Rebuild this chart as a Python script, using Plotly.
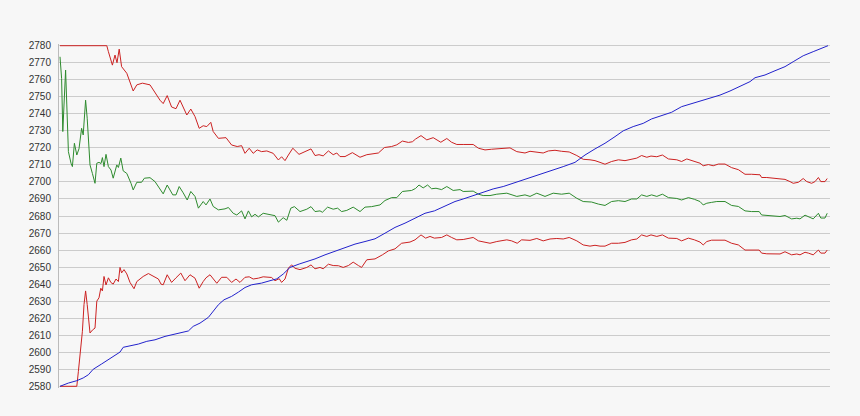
import plotly.graph_objects as go

# ---- data (sample index, value) ----
blue_x = [0, 2.1, 4.2, 5.8, 7.1, 8.3, 10.4, 12.1, 13.75, 15, 15.8, 17.1, 19.6, 21.7, 23.75, 26.25,
          30, 32.1, 33.3, 35, 37.1, 38.3, 39.6, 41, 42.9, 44.6, 46.25, 47.9, 50.4, 52.5, 54.2, 55.8,
          57.5, 59.8, 61.25, 63.75, 66.25, 68.75, 71.25, 73.75, 76.25, 78.75, 81.25, 83.75, 86.25,
          88.75, 91.25, 93.6, 96.7, 98.75, 100.8, 103.3, 105.8, 108.3, 110.8, 113.3, 115.8, 118.3,
          120.8, 123.3, 125.8, 128.75, 131.25, 133.75, 136.25, 138.75, 140.8, 143.3, 145.8, 147.9,
          150.4, 152.9, 155.4, 158.3, 161.1, 162.5, 165, 167.5, 170, 172.5, 173.75, 176.25, 178.75,
          181.25, 183.3, 185.8, 188.3, 190.4, 192]
blue_y = [2580, 2581.9, 2583.3, 2584.9, 2586.8, 2590, 2593.1, 2595.6, 2598.5, 2600.1, 2602.9, 2603.5,
          2604.8, 2606.4, 2607.3, 2609.3, 2611.3, 2612.5, 2615.2, 2617.1, 2620.5, 2624, 2627.9, 2630.8,
          2632.8, 2635.3, 2638, 2639.6, 2640.6, 2642, 2643.1, 2645.9, 2649.8, 2651.8, 2652.9, 2654.8,
          2657.2, 2659.2, 2661.1, 2663.5, 2665, 2666.6, 2669.9, 2673.3, 2675.8, 2678.7, 2681.6, 2683,
          2686.5, 2688.5, 2690, 2692, 2694, 2695.9, 2697.3, 2699.2, 2701.2, 2703.2, 2705.1, 2707, 2709,
          2711.5, 2715.8, 2719.4, 2722.7, 2726.6, 2730, 2732.5, 2734.4, 2737, 2738.9, 2740.9, 2744.2,
          2746.2, 2748, 2749, 2751, 2753.4, 2756, 2758.9, 2761.2, 2762.8, 2765.3, 2767.7, 2770.6,
          2774.1, 2776.5, 2778.4, 2780]

upper_x = [0, 11.7, 12.1, 13.1, 13.75, 14.25, 14.8, 15.4, 16.7, 18.3, 19.2, 20.6, 22.5, 24.2, 25,
           25.8, 26.8, 27.9, 29, 30, 31.7, 32.7, 33.75, 34.8, 35.8, 36.7, 37.7, 38.3, 39.6, 41.5,
           42.9, 44.3, 45.4, 46.25, 47.3, 48.3, 49.3, 50.4, 51.7, 53.3, 54.6, 55.4, 56.25, 57.1,
           58.2, 59.75, 61.25, 62.75, 63.75, 64.75, 65.8, 67.1, 68.3, 69.2, 70, 71.25, 73.1, 75,
           76.7, 78.3, 79.6, 81.1, 82.9, 84.2, 85.6, 87.1, 88.1, 88.9, 90.25, 91.7, 93.3, 95.2,
           96.7, 97.9, 99.2, 100.8, 103.3, 104.6, 106.25, 107.9, 110, 112.5, 114.2, 116.25, 117.5,
           118.75, 120.8, 122.1, 123.75, 125.4, 127.3, 129.2, 130.8, 132.5, 133.75, 135, 136.25,
           137.9, 139.6, 141.25, 142.9, 144.2, 145.4, 146.7, 147.75, 149.2, 150.6, 152.1, 154.2,
           155.4, 156.7, 158.3, 160, 160.8, 162.1, 163.3, 164.6, 166.25, 167.9, 169.6, 171.25,
           172.9, 175, 175.4, 176.7, 180, 181.25, 182.5, 183.3, 184.6, 185.8, 186.7, 187.9, 188.75,
           189.6, 190.2, 191.25, 191.8]
upper_y = [2780, 2780, 2776.5, 2768.6, 2774.5, 2770, 2778, 2767.7, 2763.8, 2753.4, 2757, 2758, 2757,
           2750.7, 2748, 2746, 2750.7, 2744, 2743, 2748, 2739.3, 2742.8, 2738.4, 2731.5, 2733,
           2732.5, 2735, 2729.6, 2725.6, 2726, 2721.7, 2720.8, 2721.3, 2716.8, 2719.8, 2716.8,
           2718.8, 2717.8, 2718.2, 2716.8, 2712.9, 2714.8, 2712.5, 2715.8, 2719.8, 2716.2, 2717.8,
           2719.4, 2715.5, 2716, 2715.3, 2718.2, 2716, 2717, 2714.9, 2714.9, 2717.2, 2714.5, 2716,
           2716.5, 2717, 2720.2, 2720.8, 2721.8, 2724, 2723.2, 2723.6, 2725.2, 2727.2, 2724.7, 2726,
           2723.3, 2725.5, 2723.3, 2722, 2722, 2722, 2719.8, 2718.8, 2719.2, 2719.4, 2720, 2717.8,
           2717, 2718, 2717.5, 2717, 2718.2, 2718.6, 2718, 2717.6, 2715.5, 2713.3, 2713, 2712.5,
           2711.5, 2710.4, 2712, 2713, 2712.5, 2713.5, 2714, 2715.5, 2714.5, 2715.2, 2714.8, 2715.8,
           2713.5, 2713, 2712, 2713.5, 2712.3, 2711, 2709.5, 2710.2, 2709.5, 2710.5, 2710.5, 2708.4,
           2707.2, 2704.5, 2704.5, 2704.2, 2702.6, 2702.6, 2701.8, 2701.5, 2700.2, 2699.2, 2699.8,
           2702, 2700.2, 2699.2, 2700.2, 2702.6, 2700.2, 2700.2, 2702]

mid_x = [0, 0.4, 0.7, 1.1, 1.4, 1.7, 2.1, 2.75, 3.1, 3.6, 4.2, 4.75, 5.4, 5.8, 6.4, 6.8, 7.5, 8.1,
         8.75, 9.2, 9.75, 10.25, 10.6, 11, 11.5, 12.1, 12.75, 13.3, 14.2, 14.6, 15.2, 15.8, 16.7,
         17.75, 18.3, 19.2, 20.4, 21.1, 22.5, 23.75, 25, 25.8, 26.8, 28.2, 29, 29.8, 30.8, 31.8,
         32.7, 33.75, 34.6, 35.8, 36.5, 37.5, 38.3, 39.6, 41.25, 42.1, 43.3, 44.2, 45.4, 46.25,
         47.1, 47.9, 48.75, 49.6, 50.8, 52.5, 53.75, 54.6, 55.8, 56.7, 57.7, 58.6, 59.6, 60, 61.7,
         62.75, 63.75, 65, 65.6, 66.9, 68.3, 69.4, 70.4, 71.7, 73.3, 75, 76.25, 77.9, 80, 81.25,
         82.9, 84.2, 85.6, 87.9, 88.9, 89.75, 90.8, 91.9, 92.9, 94, 95.4, 96.7, 98.3, 100, 100.8,
         103.3, 104.6, 105.8, 107.5, 109.2, 111.7, 114.2, 116.25, 117.5, 119.2, 121.25, 123.3,
         125.4, 127.3, 129.2, 130.8, 132.9, 134.6, 136.25, 137.9, 139.6, 141.25, 142.9, 144.2,
         145.4, 146.7, 147.9, 149.2, 150.6, 152.1, 154.2, 155.4, 157.1, 158.6, 160, 160.8, 161.7,
         162.9, 164.2, 166.25, 167.9, 169.6, 171.25, 172.9, 174.8, 175.4, 176.7, 180, 181.25,
         182.9, 184.2, 185, 186.25, 187.1, 188.3, 189.6, 190.2, 191.25, 191.8]
mid_y = [2773.5, 2760.8, 2729.6, 2749, 2765.7, 2745.2, 2717.8, 2711, 2709, 2722.7, 2715.8, 2719.5,
         2731.5, 2727.6, 2748, 2737.4, 2710, 2705, 2699.2, 2711, 2711.5, 2710.8, 2714.3, 2709,
         2716.2, 2709, 2707, 2702.2, 2710, 2708.5, 2714, 2706.5, 2705, 2699.2, 2695.3, 2699.8,
         2699.8, 2702.2, 2702.5, 2700.2, 2696, 2693, 2698.2, 2692.4, 2692.4, 2697.3, 2693.6,
         2689.4, 2694.4, 2691.5, 2684.6, 2688.5, 2686.5, 2690, 2685.6, 2683.6, 2684.2, 2685,
         2681.6, 2680.6, 2683, 2678.3, 2683, 2679.5, 2681, 2679.5, 2681.6, 2681, 2680.2, 2676.4,
         2679, 2677.5, 2684.6, 2685.5, 2683, 2682.6, 2684, 2685.5, 2682.6, 2683, 2682.2, 2685.2,
         2684, 2684.6, 2682.6, 2683.3, 2685.2, 2682.6, 2685.2, 2685.5, 2686.5, 2689.1, 2690.8,
         2690.8, 2694.4, 2695, 2696.2, 2698.2, 2696.5, 2698.2, 2696, 2696.3, 2695.5, 2697.3, 2695,
         2695.5, 2694.4, 2694.6, 2692.8, 2692, 2692, 2692.8, 2693.4, 2691.5, 2692.4, 2691.5,
         2693.4, 2691.5, 2693.4, 2692.8, 2693.4, 2690.4, 2688.5, 2688.2, 2687, 2686.2, 2688.5,
         2689, 2688.5, 2690, 2690, 2692.4, 2691.5, 2692.4, 2691.5, 2692.8, 2690.8, 2690.3,
         2689.4, 2690.8, 2689.8, 2688.5, 2686.5, 2687.5, 2688, 2688.5, 2688.5, 2686.2, 2685.6,
         2683, 2682.6, 2682.6, 2680.6, 2680.3, 2679.7, 2680.3, 2678.3, 2678.7, 2678.3, 2680.5,
         2679.5, 2678.3, 2681.6, 2678.8, 2678.8, 2681.6]

lower_x = [0, 4.2, 4.6, 5, 5.6, 6, 6.4, 6.8, 7.1, 7.5, 8.1, 8.75, 9.2, 9.75, 10.2, 10.6, 11, 11.5,
           12.1, 12.7, 13.3, 14, 14.6, 15, 15.4, 16, 16.7, 17.5, 18.5, 19.2, 20, 20.8, 22.1, 23.3,
           24.6, 25.25, 25.8, 26.8, 27.9, 29, 30.2, 31.25, 32.5, 33.75, 34.8, 35.8, 36.5, 37.5,
           38.3, 39.2, 40.4, 41.7, 42.9, 44, 45, 46.25, 47.3, 48.3, 49.6, 50.8, 52.9, 53.75, 54.8,
           55.4, 56.25, 57.1, 57.9, 58.75, 60, 61.7, 62.75, 63.75, 65, 65.8, 67.1, 68.3, 69.6,
           70.8, 72.1, 73.3, 74.6, 75.4, 76.7, 78.75, 80.6, 82.1, 83.75, 85.4, 87.5, 88.75, 90.25,
           91.4, 92.5, 93.6, 95.4, 96.7, 97.9, 99.2, 100.8, 103.3, 104.6, 106.25, 107.5, 109.2,
           111.7, 112.9, 114.3, 115.4, 117.5, 119.2, 120.8, 122.5, 124.2, 125.8, 127.3, 129.2,
           130.8, 132.5, 133.75, 135, 136.25, 137.9, 139.6, 141.25, 142.9, 144.2, 145.4, 146.7,
           147.75, 149.2, 150.6, 152.1, 154.2, 155.4, 157.1, 158.6, 160, 160.8, 161.7, 162.9,
           164.2, 166.25, 167.9, 169.6, 171.25, 172.9, 174.8, 175.4, 176.7, 180, 181.25, 182.9,
           184.2, 185, 186.25, 187.1, 188.3, 189.6, 190.2, 191.25, 191.8]
lower_y = [2580, 2580, 2588.8, 2598.5, 2612.3, 2628, 2636, 2628, 2620, 2611.3, 2613, 2614.2, 2630,
           2632, 2637.6, 2636, 2644.5, 2639.5, 2643.7, 2641, 2640, 2643, 2641.5, 2649.8, 2646.6,
           2648.5, 2646, 2641, 2637.3, 2641.5, 2643, 2644.5, 2646.2, 2644.5, 2643, 2640, 2639.6,
           2645.5, 2641, 2643.7, 2646.5, 2642, 2645.5, 2643.5, 2637.6, 2641.5, 2643.7, 2645.5,
           2643, 2640.5, 2644, 2644, 2641, 2643, 2641, 2644, 2644.3, 2643, 2643.5, 2644.3, 2643.9,
           2642, 2643.2, 2641, 2643, 2649.4, 2651.3, 2649.3, 2648.5, 2649.8, 2651.3, 2649, 2649.8,
           2649, 2651.7, 2650.9, 2650.8, 2649.8, 2650.9, 2652.9, 2650.9, 2649.8, 2654.3, 2654.8,
           2657.2, 2659.5, 2660.7, 2664, 2664.7, 2666, 2668.9, 2667, 2668, 2667, 2667.4, 2668.9,
           2667.4, 2666, 2666.2, 2667.4, 2665.4, 2664.7, 2664, 2665, 2666, 2665.4, 2664, 2666,
           2665.7, 2666.8, 2665.4, 2666.5, 2666.8, 2666.5, 2667.4, 2665.4, 2663, 2662.3, 2662.8,
           2662.3, 2662.3, 2664, 2664, 2664.5, 2666, 2666.5, 2668.9, 2668, 2668.9, 2668, 2668.9,
           2667, 2666.8, 2665.4, 2667, 2666, 2664.7, 2663, 2665, 2665.8, 2665.8, 2665.8, 2664, 2663,
           2660, 2660, 2660, 2658.2, 2657.8, 2657.7, 2659, 2657.2, 2657.7, 2657.2, 2658.7, 2658.2,
           2657.2, 2660, 2658.2, 2658.2, 2660]

y_ticks = list(range(2580, 2790, 10))

RED = "#cc2222"
GREEN = "#2e8b2e"
BLUE = "#2222cc"
BG = "#f7f7f7"

fig = go.Figure()
fig.add_trace(go.Scatter(x=lower_x, y=lower_y, mode="lines", line=dict(color=RED, width=1)))
fig.add_trace(go.Scatter(x=upper_x, y=upper_y, mode="lines", line=dict(color=RED, width=1)))
fig.add_trace(go.Scatter(x=mid_x, y=mid_y, mode="lines", line=dict(color=GREEN, width=1)))
fig.add_trace(go.Scatter(x=blue_x, y=blue_y, mode="lines", line=dict(color=BLUE, width=1)))

fig.update_layout(
    width=860, height=416,
    margin=dict(l=59, r=30, t=44, b=28),
    paper_bgcolor=BG, plot_bgcolor=BG,
    showlegend=False,
    font=dict(family="Liberation Sans, Arial, sans-serif", size=10, color="#333333"),
)
fig.update_xaxes(range=[-0.25, 192.5], showgrid=False, zeroline=False,
                 showticklabels=False, showline=False, ticks="")
fig.update_yaxes(range=[2579, 2781], tickvals=y_ticks, ticktext=[str(v) for v in y_ticks],
                 showgrid=True, gridcolor="#cccccc", gridwidth=1, zeroline=False,
                 showline=True, linecolor="#bbbbbb", linewidth=1, ticks="",
                 ticklabelstandoff=5, tickfont=dict(size=10, color="#333333"))

fig.write_html(
    "out.html",
    config={"displayModeBar": False},
    post_script="document.body.style.margin='0';document.body.style.background='%s';" % BG,
)
